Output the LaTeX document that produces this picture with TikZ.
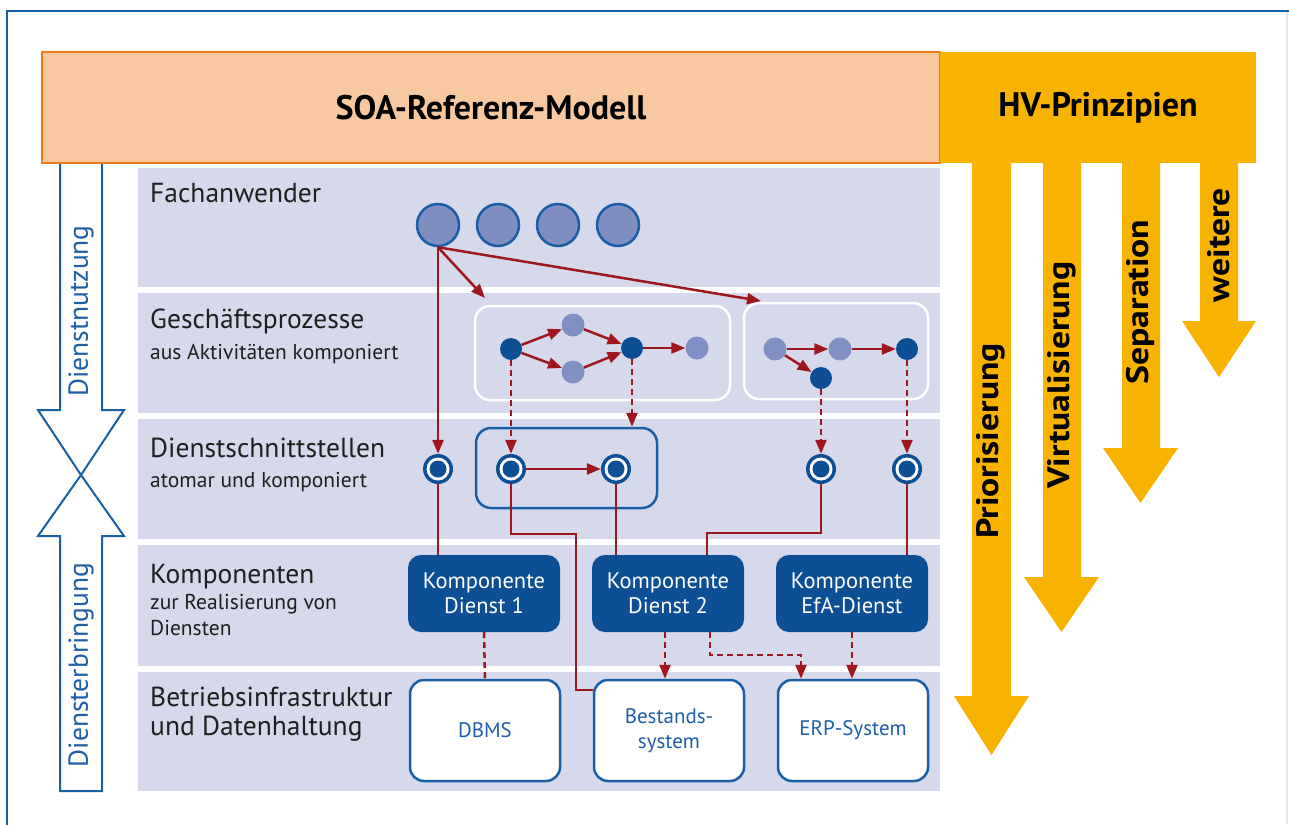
\documentclass[tikz,border=0pt]{standalone}
\usepackage{fontspec}
\setmainfont{PT Sans}
\newfontfamily\condfont[FakeStretch=1.15]{PT Sans}
\usetikzlibrary{arrows.meta}
\definecolor{bandc}{HTML}{D6D9EB}
\definecolor{orfill}{HTML}{F8C9A0}
\definecolor{orline}{HTML}{EE7A1C}
\definecolor{gold}{HTML}{F8B200}
\definecolor{blueline}{HTML}{1A5EA6}
\definecolor{darkb}{HTML}{0C4F94}
\definecolor{userc}{HTML}{7F8EC1}
\definecolor{lightn}{HTML}{8090C2}
\definecolor{redc}{HTML}{A0161E}
\definecolor{bluet}{HTML}{1F5EA8}
\begin{document}
\begin{tikzpicture}[x=1pt,y=-1pt,
  band/.style={fill=bandc},
  lbl/.style={anchor=west,inner sep=0,text=black!88,font=\fontsize{27.5}{30}\selectfont},
  sublbl/.style={anchor=west,inner sep=0,text=black!88,font=\fontsize{21.5}{24}\selectfont},
  user/.style={circle,fill=userc,draw=blueline,line width=2.5pt,minimum size=42pt,inner sep=0},
  pdark/.style={circle,fill=darkb,minimum size=22pt,inner sep=0},
  plight/.style={circle,fill=lightn,minimum size=23pt,inner sep=0},
  pbox/.style={draw=white,line width=2.5pt,rounded corners=15pt,inner sep=0},
  iface/.style={circle,fill=darkb,minimum size=30pt,inner sep=0,
    path picture={\fill[white] (path picture bounding box.center) circle (11.5pt);
                  \fill[darkb] (path picture bounding box.center) circle (8.5pt);}},
  rline/.style={draw=redc,line width=2.5pt},
  rarr/.style={rline,-{Triangle[length=14pt,width=11pt]}},
  rdash/.style={rline,dash pattern=on 6pt off 4pt},
  rdarr/.style={rarr,dash pattern=on 6pt off 4pt},
  comp/.style={rounded corners=13pt,fill=darkb,text=white,minimum width=152pt,minimum height=77pt,
    inner sep=0,align=center,font=\fontsize{22.5}{25}\selectfont},
  infra/.style={rounded corners=14pt,fill=white,draw=blueline,line width=2.5pt,text=bluet,
    minimum width=150pt,minimum height=101pt,inner sep=0,align=center,font=\fontsize{21}{25}\selectfont},
  lefta/.style={fill=white,draw=blueline,line width=2pt},
  vlbl/.style={rotate=90,text=bluet,inner sep=0,font=\fontsize{27.5}{30}\selectfont},
  hvlbl/.style={rotate=90,inner sep=0,text=black,font=\condfont\bfseries\fontsize{31}{32}\selectfont},
  title/.style={inner sep=0,text=black,font=\bfseries\fontsize{34}{36}\selectfont}]
\useasboundingbox (0,0) rectangle (1289,824);
\fill[white] (0,0) rectangle (1289,824);
% outer frame
\draw[blueline,line width=2.5pt] (7,830) -- (7,11) -- (1295,11);
\draw[black!10,line width=1.5pt] (1287,12) -- (1287,824);
% bands
\fill[band] (138,168) rectangle (940,287);
\fill[band] (138,293) rectangle (940,413);
\fill[band] (138,419) rectangle (940,539);
\fill[band] (138,545) rectangle (940,666);
\fill[band] (138,672) rectangle (940,791);
% left arrows
\draw[lefta] (60,150) -- (60,410) -- (38,410) -- (81,475) -- (124,410) -- (102,410) -- (102,150);
\draw[lefta] (81,475) -- (124,536) -- (102,536) -- (102,791) -- (60,791) -- (60,536) -- (38,536) -- cycle;
\node[vlbl] (vn) at (81,311) {Dienstnutzung};
\node[vlbl] (vb) at (81,665) {Diensterbringung};
% header
\node[fill=orfill,draw=orline,line width=2.5pt,minimum width=898pt,minimum height=111pt,inner sep=0] (soa) at (491,107.5) {};
\node[title] (soat) at (491,108) {SOA-Referenz-Modell};
\fill[gold] (940,52) rectangle (1256,163);
\fill[gold] (972,162) -- (972,696) -- (954,696) -- (991.5,755) -- (1029,696) -- (1011,696) -- (1011,162) -- cycle;
\fill[gold] (1043,162) -- (1043,577) -- (1024,577) -- (1061.5,632) -- (1099,577) -- (1081,577) -- (1081,162) -- cycle;
\fill[gold] (1122,162) -- (1122,448) -- (1103,448) -- (1140.5,503) -- (1178,448) -- (1160,448) -- (1160,162) -- cycle;
\fill[gold] (1200,162) -- (1200,321) -- (1182,321) -- (1219,377) -- (1256,321) -- (1238,321) -- (1238,162) -- cycle;
\node[title] (hvt) at (1098,108) {HV-Prinzipien};
\node[hvlbl] (h1) at (991,441) {Priorisierung};
\node[hvlbl] (h2) at (1062,375) {Virtualisierung};
\node[hvlbl] (h3) at (1141,302) {Separation};
\node[hvlbl] (h4) at (1219,245) {weitere};
% layer labels
\node[lbl] (l1) at (150,193) {Fachanwender};
\node[lbl] (l2) at (150,321) {Geschäftsprozesse};
\node[sublbl] (l2b) at (150,354) {aus Aktivitäten komponiert};
\node[lbl] (l3) at (150,448) {Dienstschnittstellen};
\node[sublbl] (l3b) at (150,482) {atomar und komponiert};
\node[lbl] (l4) at (150,577) {Komponenten};
\node[sublbl] (l4b) at (150,604) {zur Realisierung von};
\node[sublbl] (l4c) at (150,628) {Diensten};
\node[lbl] (l5) at (150,697) {Betriebsinfrastruktur};
\node[lbl] (l5b) at (150,729) {und Datenhaltung};
% users
\node[user] (u1) at (438,225) {};
\node[user] (u2) at (498,225) {};
\node[user] (u3) at (558,225) {};
\node[user] (u4) at (618,225) {};
% process boxes
\node[pbox,minimum width=255pt,minimum height=94pt] (pb1) at (602.5,353) {};
\node[pbox,minimum width=184pt,minimum height=96pt] (pb2) at (836,351) {};
\node[pdark] (pA) at (511,349) {};
\node[plight] (pU) at (573,325) {};
\node[plight] (pL) at (573,372) {};
\node[pdark] (pB) at (632,348) {};
\node[plight] (pC) at (697,348) {};
\node[plight] (pD) at (775,349) {};
\node[plight] (pE) at (840,349) {};
\node[pdark] (pF) at (907,349) {};
\node[pdark] (pG) at (821,378) {};
% interface group
\node[draw=blueline,line width=2.5pt,rounded corners=15pt,minimum width=181pt,minimum height=80pt,inner sep=0] (ib) at (566.5,468) {};
\node[iface] (i1) at (438,469) {};
\node[iface] (i2) at (511,469) {};
\node[iface] (i3) at (616,469) {};
\node[iface] (i4) at (821,469) {};
\node[iface] (i5) at (907,469) {};
% components
\node[comp] (k1) at (484,593.5) {Komponente\\Dienst 1};
\node[comp] (k2) at (668,593.5) {Komponente\\Dienst 2};
\node[comp] (k3) at (852,593.5) {Komponente\\EfA-Dienst};
% infrastructure
\node[infra] (db) at (485,730.5) {DBMS};
\node[infra] (bs) at (669,730.5) {Bestands-\\system};
\node[infra] (erp) at (853,730.5) {ERP-System};
% user arrows
\coordinate (c1) at (485,298);
\coordinate (c2) at (761,301);
\draw[rarr] (u1.south) -- (i1.north);
\draw[rarr] (u1.south) -- (c1);
\draw[rarr] (u1.south) -- (c2);
% process arrows
\draw[rarr] (pA) -- (pU);
\draw[rarr] (pA) -- (pL);
\draw[rarr] (pU) -- (pB);
\draw[rarr] (pL) -- (pB);
\draw[rarr] (pB) -- (pC);
\draw[rarr] (pD) -- (pE);
\draw[rarr] (pE) -- (pF);
\draw[rarr] (pD) -- (pG);
% dashed to interfaces
\draw[rdarr] (pA.south) -- (i2.north);
\draw[rdarr] (pB.south) -- (pB.south |- ib.north);
\draw[rdarr] (pG.south) -- (i4.north);
\draw[rdarr] (pF.south) -- (i5.north);
\draw[rarr] (i2.east) -- (i3.west);
% interfaces to components
\coordinate (j1) at (576,534);
\coordinate (j2) at (576,690);
\coordinate (j3) at (707,533);
\draw[rline] (i1.south) -- (i1.south |- k1.north);
\draw[rline] (i2.south) |- (j1) -- (j2) -- (j2 -| bs.west);
\draw[rline] (i3.south) -- (i3.south |- k2.north);
\draw[rline] (i4.south) |- (j3) -- (j3 |- k2.north);
\draw[rline] (i5.south) -- (i5.south |- k3.north);
% components to infrastructure
\coordinate (d1) at (665,632);
\coordinate (d2) at (710,632);
\coordinate (d3) at (801,655);
\draw[rdash] (k1.south) -- (db.north);
\draw[rdarr] (d1) -- (d1 |- bs.north);
\draw[rdarr] (d2) |- (d3) -- (d3 |- erp.north);
\draw[rdarr] (k3.south) -- (k3.south |- erp.north);
\end{tikzpicture}
\end{document}
